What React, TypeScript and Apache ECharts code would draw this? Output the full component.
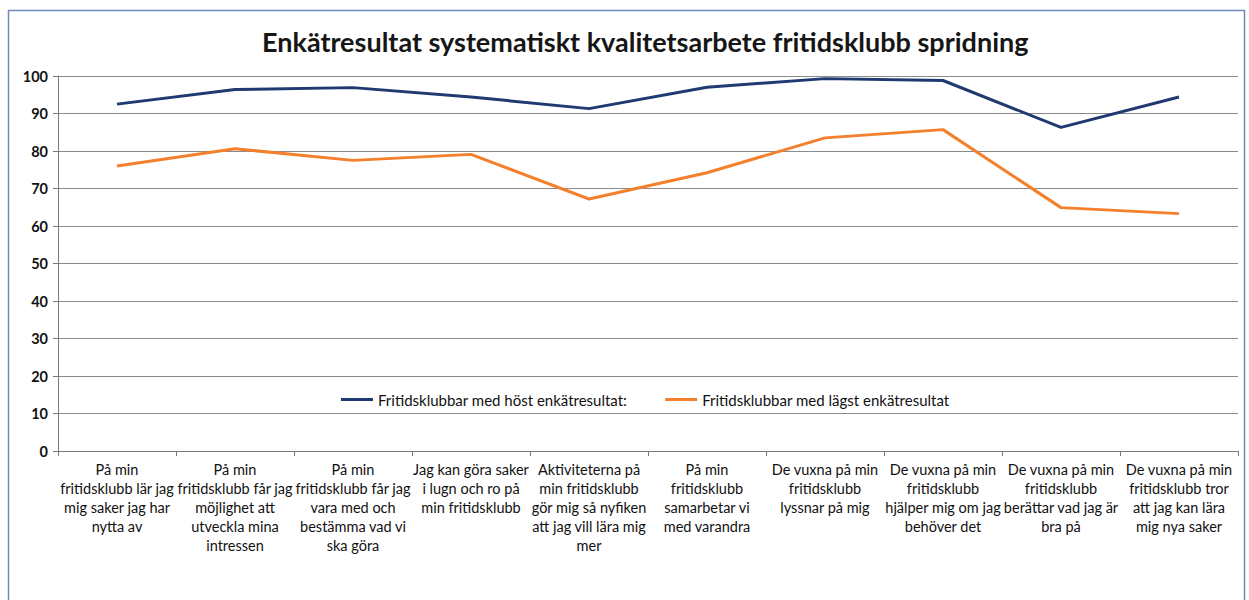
import React, { useEffect, useRef } from "react";
import * as echarts from "echarts";

const title = "Enkätresultat systematiskt kvalitetsarbete fritidsklubb spridning";

const categories = [
  "På min\nfritidsklubb lär jag\nmig saker jag har\nnytta av",
  "På min\nfritidsklubb får jag\nmöjlighet att\nutveckla mina\nintressen",
  "På min\nfritidsklubb får jag\nvara med och\nbestämma vad vi\nska göra",
  "Jag kan göra saker\ni lugn och ro på\nmin fritidsklubb",
  "Aktiviteterna på\nmin fritidsklubb\ngör mig så nyfiken\natt jag vill lära mig\nmer",
  "På min\nfritidsklubb\nsamarbetar vi\nmed varandra",
  "De vuxna på min\nfritidsklubb\nlyssnar på mig",
  "De vuxna på min\nfritidsklubb\nhjälper mig om jag\nbehöver det",
  "De vuxna på min\nfritidsklubb\nberättar vad jag är\nbra på",
  "De vuxna på min\nfritidsklubb tror\natt jag kan lära\nmig nya saker",
];

const seriesHighName = "Fritidsklubbar med höst enkätresultat:";
const seriesLowName = "Fritidsklubbar med lägst enkätresultat";

const highValues = [92.5, 96.4, 96.9, 94.4, 91.3, 97.0, 99.3, 98.8, 86.3, 94.4];
const lowValues = [76.0, 80.6, 77.5, 79.1, 67.2, 74.2, 83.5, 85.7, 64.9, 63.3];

const yTicks = { min: 0, max: 100, interval: 10 };

export default function App() {
  const ref = useRef<HTMLDivElement>(null);

  useEffect(() => {
    if (!ref.current) return;
    const chart = echarts.init(ref.current, undefined, { renderer: "svg" });
    const font = "Lato, 'Open Sans', sans-serif";
    chart.setOption({
      animation: false,
      backgroundColor: "#ffffff",
      textStyle: { fontFamily: font },
      graphic: [
        {
          type: "rect",
          shape: { x: 8.5, y: 10.5, width: 1236, height: 600 },
          style: { fill: "none", stroke: "#6f87b6", lineWidth: 1.5 },
          silent: true,
        },
      ],
      title: {
        text: title,
        left: 257,
        top: 23,
        textStyle: {
          fontFamily: font,
          fontSize: 27,
          fontWeight: "bold",
          color: "#161616",
        },
      },
      legend: {
        top: 387,
        left: 336,
        itemWidth: 32,
        itemHeight: 3,
        itemGap: 38,
        icon: "rect",
        textStyle: { fontSize: 15, color: "#111111", fontFamily: font },
        data: [seriesHighName, seriesLowName],
      },
      grid: { left: 58, right: 11, top: 76, bottom: 149, containLabel: false },
      xAxis: {
        type: "category",
        data: categories,
        boundaryGap: true,
        axisLine: { lineStyle: { color: "#7a7a7a", width: 1 } },
        axisTick: { show: true, length: 5, lineStyle: { color: "#7a7a7a" } },
        axisLabel: {
          interval: 0,
          fontSize: 14.5,
          lineHeight: 19,
          color: "#111111",
          margin: 9,
          fontFamily: font,
        },
      },
      yAxis: {
        type: "value",
        min: yTicks.min,
        max: yTicks.max,
        interval: yTicks.interval,
        axisLine: { show: true, lineStyle: { color: "#7a7a7a", width: 1 } },
        axisTick: { show: true, length: 5, lineStyle: { color: "#7a7a7a" } },
        axisLabel: {
          fontSize: 14.5,
          fontWeight: "bold",
          color: "#111111",
          margin: 10,
          fontFamily: font,
        },
        splitLine: { lineStyle: { color: "#8a8a8a", width: 1 } },
      },
      series: [
        {
          name: seriesHighName,
          type: "line",
          data: highValues,
          symbol: "none",
          lineStyle: { color: "#1f3a70", width: 3 },
          itemStyle: { color: "#1f3a70" },
        },
        {
          name: seriesLowName,
          type: "line",
          data: lowValues,
          symbol: "none",
          lineStyle: { color: "#f47f2c", width: 3 },
          itemStyle: { color: "#f47f2c" },
        },
      ],
    });
    return () => chart.dispose();
  }, []);

  return (
    <div
      ref={ref}
      style={{ position: "absolute", left: 0, top: 0, width: 1249, height: 600 }}
    />
  );
}
